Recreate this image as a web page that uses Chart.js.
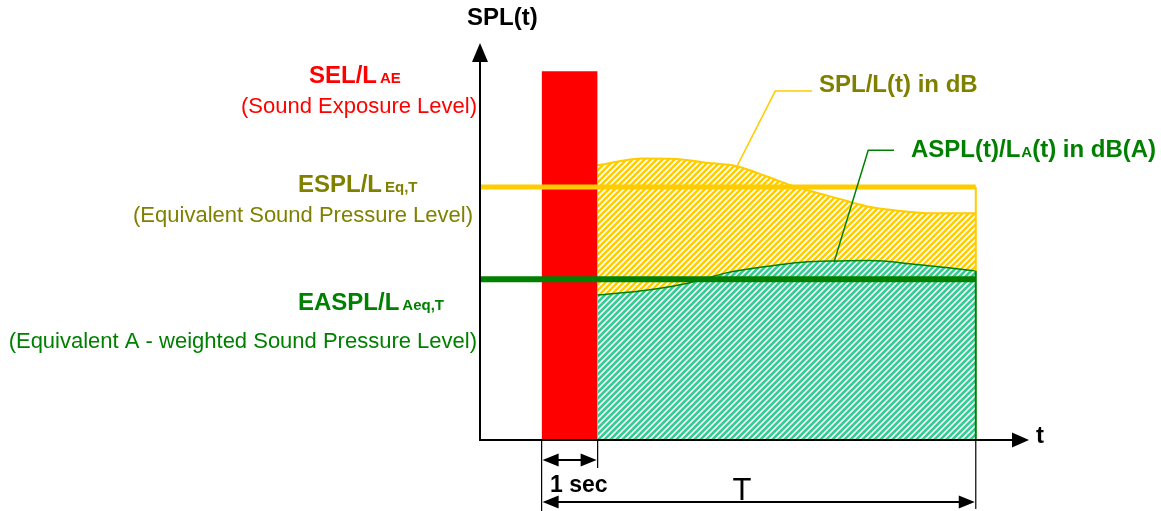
<!DOCTYPE html>
<html>
<head>
<meta charset="utf-8">
<script src="https://cdn.jsdelivr.net/npm/chart.js@4.4.1/dist/chart.umd.min.js"></script>
<style>
  html, body { margin: 0; padding: 0; background: #fff; }
  canvas { display: block; }
</style>
</head>
<body>
<canvas id="soundChart" width="1161" height="511"></canvas>
<script>
// zaman ekseni (saniye) ve seviyeler (dB)
const T_START = -1.1;
const T_AXIS_END = 8.7;
const T_END = 7.75;        // ölçüm süresi T
const PULSE = [0, 1];      // 1 sn'lik SEL aralığı
const Y_MAX = 100;

const SEL_LEVEL = 92.9;
const ESPL_LEVEL = 63.7;
const EASPL_LEVEL = 40.5;

const SPL_T  = [1, 1.8, 2.4, 2.9, 3.5, 4.0, 4.4, 4.8, 5.3, 5.8, 6.4, 7.0, 7.75];
const SPL_DB = [69.2, 70.9, 70.8, 69.9, 68.9, 66.5, 64.4, 62.7, 60.8, 58.9, 57.7, 57.1, 57.1];

const ASPL_T  = [1, 1.9, 2.65, 3.3, 4.0, 4.65, 5.3, 5.85, 6.65, 7.3, 7.75];
const ASPL_DB = [36.5, 37.8, 39.6, 42.1, 43.7, 44.8, 45.1, 45.2, 44.3, 43.3, 42.6];

// açıklama çizgileri (veri biriminde)
const SPL_LEADER_T  = [4.83, 4.17, 3.47];
const SPL_LEADER_DB = [87.9, 87.9, 68.5];
const ASPL_LEADER_T  = [6.29, 5.83, 5.22];
const ASPL_LEADER_DB = [73.0, 73.0, 44.8];

const RED = '#ff0000';
const YELLOW = '#ffcc00';
const OLIVE = '#808000';
const GREEN = '#008000';
const TEAL = '#33cc99';
const FONT = '"Liberation Sans", Arial, Helvetica, sans-serif';

const canvas = document.getElementById('soundChart');
const mainCtx = canvas.getContext('2d');

// taralı dolgu deseni
function hatch(color) {
    const c = document.createElement('canvas');
    c.width = 6; c.height = 6;
    const g = c.getContext('2d');
    g.strokeStyle = color;
    g.lineWidth = 2.5;
    g.beginPath();
    g.moveTo(-1, 7); g.lineTo(7, -1);
    g.moveTo(-4, 4); g.lineTo(4, -4);
    g.moveTo(2, 10); g.lineTo(10, 2);
    g.stroke();
    return mainCtx.createPattern(c, 'repeat');
}

const toPoints = (xs, ys) => xs.map((x, i) => ({ x: x, y: ys[i] }));

// metin parçaları (alt indis için)
function drawParts(ctx, parts, x, y, align) {
    let total = 0;
    parts.forEach(p => { ctx.font = p[1]; total += ctx.measureText(p[0]).width + (p[2] || 0); });
    let cx = align === 'right' ? x - total : (align === 'center' ? x - total / 2 : x);
    ctx.textAlign = 'left';
    ctx.textBaseline = 'alphabetic';
    parts.forEach(p => {
        ctx.font = p[1];
        cx += (p[2] || 0);
        ctx.fillText(p[0], cx, y);
        cx += ctx.measureText(p[0]).width;
    });
}

function arrowHead(ctx, tx, ty, dir, len, half) {
    // dir: 'up', 'right', 'left'
    ctx.beginPath();
    ctx.moveTo(tx, ty);
    if (dir === 'up') { ctx.lineTo(tx - half, ty + len); ctx.lineTo(tx + half, ty + len); }
    if (dir === 'right') { ctx.lineTo(tx - len, ty - half); ctx.lineTo(tx - len, ty + half); }
    if (dir === 'left') { ctx.lineTo(tx + len, ty - half); ctx.lineTo(tx + len, ty + half); }
    ctx.closePath();
    ctx.fill();
}

const decor = {
    id: 'decor',
    afterDatasetsDraw(chart) {
        const { ctx, scales: { x, y } } = chart;
        const x0 = x.getPixelForValue(T_START);
        const y0 = y.getPixelForValue(0);
        const xEnd = x.getPixelForValue(T_AXIS_END);
        const yTop = y.getPixelForValue(Y_MAX);
        const xT = x.getPixelForValue(T_END);
        const xP0 = x.getPixelForValue(PULSE[0]);
        const xP1 = x.getPixelForValue(PULSE[1]);
        ctx.save();

        // sağ kenar çizgileri
        ctx.lineWidth = 2;
        ctx.strokeStyle = YELLOW;
        ctx.beginPath();
        ctx.moveTo(xT, y.getPixelForValue(ESPL_LEVEL));
        ctx.lineTo(xT, y.getPixelForValue(ASPL_DB[ASPL_DB.length - 1]));
        ctx.stroke();
        ctx.strokeStyle = GREEN;
        ctx.beginPath();
        ctx.moveTo(xT, y.getPixelForValue(ASPL_DB[ASPL_DB.length - 1]));
        ctx.lineTo(xT, y0);
        ctx.stroke();

        // açıklama çizgileri
        ctx.lineWidth = 1.5;
        [[SPL_LEADER_T, SPL_LEADER_DB, YELLOW], [ASPL_LEADER_T, ASPL_LEADER_DB, GREEN]].forEach(l => {
            ctx.strokeStyle = l[2];
            ctx.beginPath();
            l[0].forEach((t, i) => {
                const px = x.getPixelForValue(t), py = y.getPixelForValue(l[1][i]);
                if (i === 0) ctx.moveTo(px, py); else ctx.lineTo(px, py);
            });
            ctx.stroke();
        });

        // eksenler
        ctx.strokeStyle = '#000';
        ctx.fillStyle = '#000';
        ctx.lineWidth = 2;
        ctx.beginPath();
        ctx.moveTo(x0, y0 + 1);
        ctx.lineTo(x0, yTop + 15);
        ctx.moveTo(x0 - 1, y0);
        ctx.lineTo(xEnd - 14, y0);
        ctx.stroke();
        arrowHead(ctx, x0, yTop, 'up', 19, 8);
        arrowHead(ctx, xEnd, y0, 'right', 17, 7.5);

        // ölçü çizgileri
        ctx.lineWidth = 1.2;
        ctx.beginPath();
        ctx.moveTo(xP0, y0); ctx.lineTo(xP0, 511);
        ctx.moveTo(xP1, y0); ctx.lineTo(xP1, y0 + 28);
        ctx.moveTo(xT, y0); ctx.lineTo(xT, y0 + 69);
        ctx.stroke();
        ctx.lineWidth = 2;
        const ya = y0 + 20, yb = y0 + 62;
        ctx.beginPath();
        ctx.moveTo(xP0 + 10, ya); ctx.lineTo(xP1 - 10, ya);
        ctx.moveTo(xP0 + 10, yb); ctx.lineTo(xT - 10, yb);
        ctx.stroke();
        arrowHead(ctx, xP0 + 1, ya, 'left', 16, 6.5);
        arrowHead(ctx, xP1 - 1, ya, 'right', 16, 6.5);
        arrowHead(ctx, xP0 + 1, yb, 'left', 16, 6.5);
        arrowHead(ctx, xT - 1, yb, 'right', 16, 6.5);

        // yazılar
        const B24 = 'bold 24px ' + FONT;
        const B15 = 'bold 15px ' + FONT;
        const N22 = '22px ' + FONT;
        ctx.fillStyle = '#000';
        drawParts(ctx, [['SPL(t)', B24]], 467, 25, 'left');
        drawParts(ctx, [['t', B24]], 1036, 443, 'left');
        drawParts(ctx, [['1 sec', 'bold 23px ' + FONT]], 550, 492, 'left');
        drawParts(ctx, [['T', '31px ' + FONT]], 742, 500, 'center');

        ctx.fillStyle = RED;
        drawParts(ctx, [['SEL/L', B24], ['AE', B15, 3]], 309, 83, 'left');
        drawParts(ctx, [['(Sound Exposure Level)', N22]], 477, 113, 'right');

        ctx.fillStyle = OLIVE;
        drawParts(ctx, [['ESPL/L', B24], ['Eq,T', B15, 3]], 298, 192, 'left');
        drawParts(ctx, [['(Equivalent Sound Pressure Level)', N22]], 473, 222, 'right');
        drawParts(ctx, [['SPL/L(t) in dB', B24]], 819, 92, 'left');

        ctx.fillStyle = GREEN;
        drawParts(ctx, [['EASPL/L', B24], ['Aeq,T', B15, 3]], 298, 310, 'left');
        drawParts(ctx, [['(Equivalent A - weighted Sound Pressure Level)', N22]], 477, 348, 'right');
        drawParts(ctx, [['ASPL(t)/L', B24], ['A', B15, 1], ['(t) in dB(A)', B24]], 911, 157, 'left');

        ctx.restore();
    }
};

new Chart(canvas, {
    type: 'line',
    data: {
        datasets: [{
            label: 'EASPL',
            data: [{ x: T_START, y: EASPL_LEVEL }, { x: T_END, y: EASPL_LEVEL }],
            borderColor: GREEN,
            borderWidth: 6,
            fill: false,
            order: 0
        }, {
            label: 'ESPL',
            data: [{ x: T_START, y: ESPL_LEVEL }, { x: T_END, y: ESPL_LEVEL }],
            borderColor: YELLOW,
            borderWidth: 5,
            fill: false,
            order: 1
        }, {
            label: 'SEL',
            data: [{ x: PULSE[0], y: SEL_LEVEL }, { x: PULSE[1], y: SEL_LEVEL }],
            borderColor: 'transparent',
            borderWidth: 0,
            backgroundColor: RED,
            fill: 'origin',
            order: 2
        }, {
            label: 'ASPL(t)',
            data: toPoints(ASPL_T, ASPL_DB),
            borderColor: GREEN,
            borderWidth: 1.5,
            backgroundColor: hatch(TEAL),
            fill: 'origin',
            cubicInterpolationMode: 'monotone',
            order: 3
        }, {
            label: 'SPL(t)',
            data: toPoints(SPL_T, SPL_DB),
            borderColor: YELLOW,
            borderWidth: 2,
            backgroundColor: hatch(YELLOW),
            fill: 'origin',
            cubicInterpolationMode: 'monotone',
            order: 4
        }]
    },
    options: {
        responsive: false,
        animation: false,
        layout: { padding: { left: 480, right: 132, top: 43, bottom: 71 } },
        elements: { point: { radius: 0, hoverRadius: 0 } },
        scales: {
            x: { type: 'linear', min: T_START, max: T_AXIS_END, display: false },
            y: { type: 'linear', min: 0, max: Y_MAX, display: false }
        },
        plugins: {
            legend: { display: false },
            tooltip: { enabled: false }
        }
    },
    plugins: [decor]
});
</script>
</body>
</html>
